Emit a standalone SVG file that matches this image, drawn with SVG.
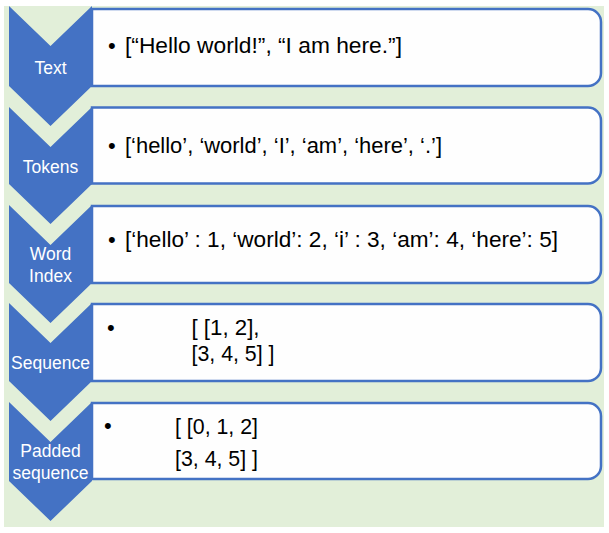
<svg xmlns="http://www.w3.org/2000/svg" width="609" height="533" viewBox="0 0 609 533">
<style>
.bg{fill:#e2efd9}
.chev{fill:#4472c4}
.box{fill:#fefefe;stroke:#4472c4;stroke-width:2.5}
.lbl{font-family:"Liberation Sans",Arial,sans-serif;font-size:17.5px;fill:#ffffff;text-anchor:middle}
.txt{font-family:"Liberation Sans",Arial,sans-serif;font-size:22px;fill:#000000}
</style>
<rect x="0" y="0" width="609" height="533" fill="#ffffff"/>
<rect class="bg" x="4" y="6" width="600" height="521"/>

<g id="step-text">
<path class="box" d="M92,9 H588 A13,13 0 0 1 601,22 V73 A13,13 0 0 1 588,86 H92 Z"/>
<polygon class="chev" points="9,6 50.5,46 92,6 92,86 50.5,126 9,86"/>
<text class="lbl" x="50.5" y="74">Text</text>
<text class="txt" x="108" y="53">•</text>
<text class="txt" x="125" y="53" textLength="277" lengthAdjust="spacingAndGlyphs">[“Hello world!”, “I am here.”]</text>
</g>

<g id="step-tokens">
<path class="box" d="M92,107.5 H588 A13,13 0 0 1 601,120.5 V170.5 A13,13 0 0 1 588,183.5 H92 Z"/>
<polygon class="chev" points="9,107 50.5,147 92,107 92,184 50.5,224 9,184"/>
<text class="lbl" x="50.5" y="173">Tokens</text>
<text class="txt" x="108" y="153">•</text>
<text class="txt" x="125" y="153" textLength="317" lengthAdjust="spacingAndGlyphs">[‘hello’, ‘world’, ‘I’, ‘am’, ‘here’, ‘.’]</text>
</g>

<g id="step-word-index">
<path class="box" d="M92,206 H588 A13,13 0 0 1 601,219 V270 A13,13 0 0 1 588,283 H92 Z"/>
<polygon class="chev" points="9,205 50.5,245 92,205 92,283 50.5,323 9,283"/>
<text class="lbl" x="50.5" y="260">Word</text>
<text class="lbl" x="50.5" y="282">Index</text>
<text class="txt" x="108" y="247">•</text>
<text class="txt" x="125" y="247" textLength="433" lengthAdjust="spacingAndGlyphs">[‘hello’ : 1, ‘world’: 2, ‘i’ : 3, ‘am’: 4, ‘here’: 5]</text>
</g>

<g id="step-sequence">
<path class="box" d="M92,304 H588 A13,13 0 0 1 601,317 V368 A13,13 0 0 1 588,381 H92 Z"/>
<polygon class="chev" points="9,303 50.5,343 92,303 92,381 50.5,421 9,381"/>
<text class="lbl" x="50.5" y="369">Sequence</text>
<text class="txt" x="107" y="335">•</text>
<text class="txt" x="191.5" y="335" textLength="68" lengthAdjust="spacingAndGlyphs">[ [1, 2],</text>
<text class="txt" x="191.5" y="361" textLength="83" lengthAdjust="spacingAndGlyphs">[3, 4, 5] ]</text>
</g>

<g id="step-padded-sequence">
<path class="box" d="M92,403 H588 A13,13 0 0 1 601,416 V466 A13,13 0 0 1 588,479 H92 Z"/>
<polygon class="chev" points="9,402 50.5,442 92,402 92,481 50.5,521 9,481"/>
<text class="lbl" x="50.5" y="457">Padded</text>
<text class="lbl" x="50.5" y="479">sequence</text>
<text class="txt" x="104" y="433">•</text>
<text class="txt" x="175" y="434" textLength="83" lengthAdjust="spacingAndGlyphs">[ [0, 1, 2]</text>
<text class="txt" x="175" y="466" textLength="83" lengthAdjust="spacingAndGlyphs">[3, 4, 5] ]</text>
</g>
</svg>
